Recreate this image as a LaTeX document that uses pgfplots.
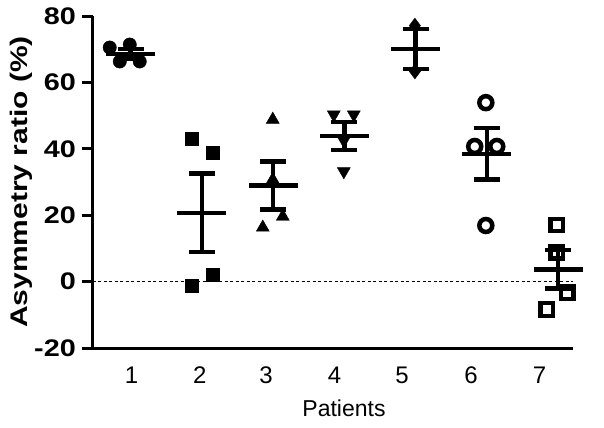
\documentclass[border=0pt]{standalone}
\usepackage{fontspec}
\setmainfont{Liberation Sans}
\usepackage{graphicx}
\usepackage{pgfplots}
\pgfplotsset{compat=1.18}

% bold, slightly widened tick labels as in the original
\newcommand{\sy}[1]{\scalebox{1.2}[1]{#1}}

\begin{document}
\begin{tikzpicture}
\begin{axis}[
    name=ax,
    scale only axis,
    width=480pt, height=332pt,
    xmin=0.47, xmax=7.21,
    ymin=-20, ymax=80,
    axis x line=bottom, axis y line=left,
    axis line style={line width=3pt, -},
    tick align=outside,
    major tick length=11pt,
    ytick={-20,0,20,40,60,80},
    yticklabels={\sy{-20},\sy{0},\sy{20},\sy{40},\sy{60},\sy{80}},
    yticklabel style={font=\fontsize{24}{24}\selectfont\bfseries, inner sep=0pt, xshift=-6pt},
    y tick style={line width=3pt, black},
    xtick={1.01,1.97,2.90,3.86,4.81,5.78,6.74},
    xticklabels={1,2,3,4,5,6,7},
    xticklabel style={font=\fontsize{24}{24}\selectfont, inner sep=0pt, yshift=-8pt},
    x tick style={draw=none},
    xlabel={Patients},
    xlabel style={font=\fontsize{23}{23}\selectfont, inner sep=0pt, anchor=north,
        at={([xshift=11pt,yshift=-52pt]axis description cs:0.5,0)}},
    ylabel={\scalebox{1.25}[1]{Asymmetry ratio (\%)}},
    ylabel style={font=\fontsize{24}{24}\selectfont\bfseries, inner sep=0pt, anchor=north,
        at={([xshift=-83pt]axis description cs:0,0.5)}},
    clip=false,
]

% zero reference line
\addplot[line width=1.2pt, dash pattern=on 3pt off 2.5pt] coordinates {(0.47,0) (7.21,0)};

% patient 1
\addplot[only marks, mark=*, mark size=6.7pt, mark options={draw=black, fill=black}]
    coordinates {(0.705,70.5) (0.986,71.4) (0.846,66.3) (1.126,66.3)};
% patient 2
\addplot[only marks, mark=square*, mark size=6.5pt, mark options={draw=black, fill=black}]
    coordinates {(1.857,43.1) (2.152,38.9) (1.857,-1.2) (2.152,2.1)};
% patient 3
\addplot[only marks, mark=triangle*, mark size=7.5pt, mark options={draw=black, fill=black}]
    coordinates {(2.994,48.8) (2.854,16.3) (3.135,19.6) (2.994,30.7)};
% patient 4
\addplot[only marks, mark=triangle*, mark size=7.5pt, mark options={draw=black, fill=black, rotate=180}]
    coordinates {(3.851,50.3) (4.132,50.3) (3.992,42.5) (3.992,33.2)};
% patient 5
\addplot[only marks, mark=diamond*, mark size=7.5pt, mark options={draw=black, fill=black}]
    coordinates {(4.99,77.1) (4.99,63.3)};
% patient 6
\addplot[only marks, mark=o, mark size=6.5pt, mark options={draw=black, fill=white, line width=4.5pt}]
    coordinates {(5.986,53.9) (5.83,40.7) (6.14,40.7) (5.986,16.9)};
% patient 7
\addplot[only marks, mark=square, mark size=6.2pt, mark options={draw=black, fill=white, line width=4.2pt}]
    coordinates {(6.98,17.0) (6.98,8.8) (7.13,-3.3) (6.84,-8.4)};

% mean +- SEM
\addplot[only marks, mark=-, mark size=24.5pt, mark options={line width=4.5pt, black},
    error bars/.cd, y dir=both, y explicit,
    error bar style={line width=4.5pt, black},
    error mark options={rotate=90, mark size=13pt, line width=4.5pt, black}]
    coordinates {
    (1,68.6) +- (0,1.4)
    (2,20.7) +- (0,11.8)
    (3,28.9) +- (0,7.2)
    (4,43.8) +- (0,4.2)
    (5,70.1) +- (0,6.0)
    (6,38.5) +- (0,7.8)
    (7,3.7) +- (0,5.8)
    };
\end{axis}
\pgfresetboundingbox
\path[use as bounding box] ([shift={(-93pt,-79pt)}]ax.south west) rectangle ([shift={(31pt,16pt)}]ax.north east);
\end{tikzpicture}
\end{document}
